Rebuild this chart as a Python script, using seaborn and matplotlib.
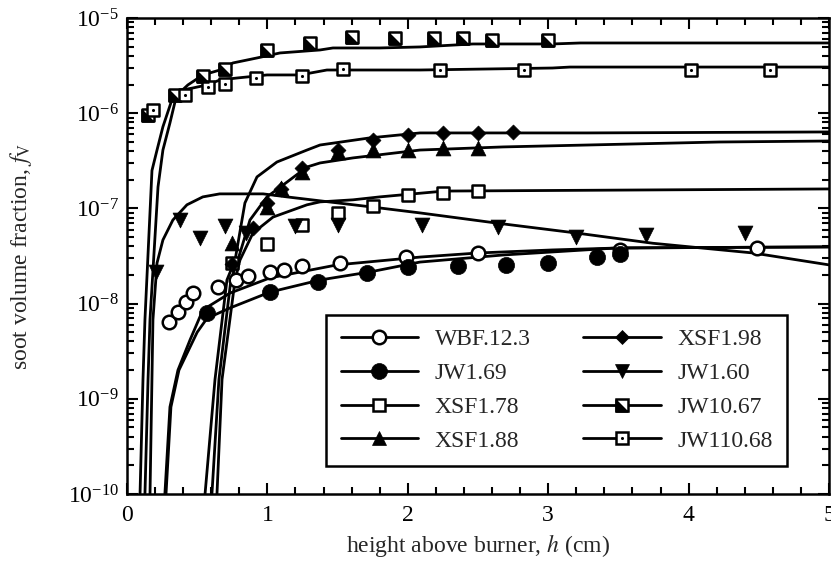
import matplotlib
matplotlib.use("Agg")
import matplotlib.pyplot as plt
import seaborn as sns
from matplotlib.lines import Line2D
from matplotlib.legend_handler import HandlerTuple
from matplotlib.ticker import MultipleLocator, LogLocator, NullFormatter

# ---------------- measured points (h in cm, soot volume fraction) ----------------
wbf_h = [0.30, 0.36, 0.42, 0.47, 0.65, 0.78, 0.86, 1.02, 1.12, 1.25, 1.52, 1.99, 2.50, 3.51, 4.49]
wbf_fv = [6.4e-9, 8.2e-9, 1.04e-8, 1.29e-8, 1.49e-8, 1.77e-8, 1.95e-8, 2.15e-8, 2.25e-8, 2.5e-8,
          2.7e-8, 3.1e-8, 3.4e-8, 3.65e-8, 3.8e-8]

jw169_h = [0.57, 1.02, 1.36, 1.71, 2.00, 2.36, 2.70, 3.00, 3.35, 3.51]
jw169_fv = [7.96e-9, 1.32e-8, 1.69e-8, 2.1e-8, 2.4e-8, 2.5e-8, 2.55e-8, 2.7e-8, 3.1e-8, 3.3e-8]

xsf178_h = [0.75, 1.00, 1.25, 1.50, 1.75, 2.00, 2.25, 2.50]
xsf178_fv = [2.7e-8, 4.2e-8, 6.7e-8, 8.9e-8, 1.06e-7, 1.38e-7, 1.45e-7, 1.51e-7]

xsf188_h = [0.75, 1.00, 1.10, 1.25, 1.50, 1.75, 2.00, 2.25, 2.50]
xsf188_fv = [4.3e-8, 1.03e-7, 1.64e-7, 2.41e-7, 3.9e-7, 4.1e-7, 4.1e-7, 4.3e-7, 4.3e-7]

xsf198_h = [0.75, 0.90, 1.00, 1.10, 1.25, 1.50, 1.75, 2.00, 2.25, 2.50, 2.75]
xsf198_fv = [2.6e-8, 6.2e-8, 1.15e-7, 1.6e-7, 2.65e-7, 4.1e-7, 5.2e-7, 5.9e-7, 6.2e-7, 6.2e-7, 6.3e-7]

jw160_h = [0.21, 0.38, 0.52, 0.70, 0.85, 1.20, 1.50, 2.10, 2.64, 3.20, 3.70, 4.40]
jw160_fv = [2.15e-8, 7.55e-8, 4.9e-8, 6.5e-8, 5.5e-8, 6.5e-8, 6.7e-8, 6.7e-8, 6.4e-8, 5.0e-8, 5.3e-8, 5.5e-8]

jw1067_h = [0.15, 0.34, 0.54, 0.70, 1.00, 1.30, 1.60, 1.91, 2.19, 2.39, 2.60, 3.00]
jw1067_fv = [9.5e-7, 1.55e-6, 2.45e-6, 2.9e-6, 4.6e-6, 5.5e-6, 6.3e-6, 6.2e-6, 6.2e-6, 6.2e-6, 5.9e-6, 5.9e-6]

jw11068_h = [0.185, 0.41, 0.58, 0.70, 0.92, 1.25, 1.54, 2.23, 2.83, 4.02, 4.58]
jw11068_fv = [1.08e-6, 1.55e-6, 1.88e-6, 2.03e-6, 2.34e-6, 2.46e-6, 2.91e-6, 2.84e-6, 2.84e-6, 2.84e-6, 2.84e-6]

# ---------------- model curves ----------------
wbf_line_h = [0.27, 0.306, 0.363, 0.449, 0.541, 0.734, 1.018, 1.496, 2.087, 2.50, 3.03, 3.51, 5.0]
wbf_line_fv = [1e-10, 8.2e-10, 2.0e-9, 4.15e-9, 8.6e-9, 1.29e-8, 1.86e-8, 2.55e-8, 3.08e-8, 3.4e-8,
               3.66e-8, 3.84e-8, 3.94e-8]

jw169_line_h = [0.278, 0.313, 0.37, 0.50, 0.57, 0.734, 1.018, 1.375, 1.73, 2.087, 2.68, 3.49, 5.0]
jw169_line_fv = [1e-10, 8.2e-10, 2.0e-9, 5.0e-9, 7.0e-9, 9.0e-9, 1.32e-8, 1.77e-8, 2.15e-8, 2.73e-8,
                 3.24e-8, 3.84e-8, 3.94e-8]

xsf178_line_h = [0.641, 0.677, 0.77, 0.805, 0.897, 1.04, 1.282, 1.375, 1.61, 1.80, 1.99, 2.26, 5.0]
xsf178_line_fv = [1e-10, 1.6e-9, 1.77e-8, 2.87e-8, 5.5e-8, 8.1e-8, 1.09e-7, 1.17e-7, 1.23e-7, 1.32e-7,
                  1.4e-7, 1.52e-7, 1.6e-7]

xsf188_line_h = [0.605, 0.655, 0.74, 0.79, 0.876, 0.997, 1.14, 1.282, 1.375, 1.61, 2.087, 2.68, 3.28, 4.22, 5.0]
xsf188_line_fv = [1e-10, 1.6e-9, 1.77e-8, 2.87e-8, 7.55e-8, 1.32e-7, 1.89e-7, 2.72e-7, 3.0e-7, 3.39e-7,
                  4.1e-7, 4.42e-7, 4.63e-7, 4.98e-7, 5.1e-7]

xsf198_line_h = [0.556, 0.627, 0.712, 0.77, 0.84, 0.926, 1.068, 1.282, 1.375, 1.73, 2.087, 3.28, 5.0]
xsf198_line_fv = [1e-10, 1.6e-9, 1.77e-8, 2.87e-8, 1.14e-7, 2.14e-7, 3.07e-7, 4.1e-7, 4.63e-7, 5.5e-7,
                  6.2e-7, 6.2e-7, 6.35e-7]

jw160_line_h = [0.164, 0.185, 0.214, 0.256, 0.327, 0.427, 0.54, 0.66, 0.97, 1.14, 1.73, 2.09, 2.635,
                3.205, 3.746, 4.46, 5.0]
jw160_line_fv = [1e-10, 6.8e-9, 2.67e-8, 4.66e-8, 7.55e-8, 1.09e-7, 1.32e-7, 1.42e-7, 1.42e-7, 1.32e-7,
                 1.04e-7, 8.95e-8, 7.0e-8, 5.5e-8, 4.3e-8, 3.4e-8, 2.55e-8]

jw1067_line_h = [0.093, 0.114, 0.128, 0.178, 0.214, 0.256, 0.32, 0.434, 0.541, 0.662, 0.755, 0.926,
                 1.09, 1.375, 1.467, 1.80, 2.087, 2.464, 3.03, 3.23, 5.0]
jw1067_line_fv = [1e-10, 1.6e-9, 6.8e-9, 2.5e-7, 4.1e-7, 7.2e-7, 1.38e-6, 1.98e-6, 2.52e-6, 2.84e-6,
                  3.37e-6, 3.80e-6, 4.29e-6, 4.61e-6, 4.84e-6, 4.84e-6, 4.96e-6, 5.33e-6, 5.33e-6,
                  5.46e-6, 5.46e-6]

jw11068_line_h = [0.128, 0.15, 0.164, 0.221, 0.256, 0.306, 0.349, 0.392, 0.47, 0.57, 0.662, 0.783,
                  0.997, 1.232, 1.424, 2.087, 3.03, 3.155, 5.0]
jw11068_line_fv = [1e-10, 1.6e-9, 6.8e-9, 1.68e-7, 4.1e-7, 7.9e-7, 1.45e-6, 1.75e-6, 1.84e-6, 1.98e-6,
                   2.23e-6, 2.34e-6, 2.52e-6, 2.52e-6, 2.84e-6, 2.84e-6, 2.98e-6, 3.05e-6, 3.05e-6]

labels = ["WBF.12.3", "JW1.69", "XSF1.78", "XSF1.88", "XSF1.98", "JW1.60", "JW10.67", "JW110.68"]

# ---------------- style ----------------
sns.set_style("ticks")
plt.rcParams["font.family"] = ["Liberation Serif", "DejaVu Serif"]
plt.rcParams["mathtext.fontset"] = "stix"
plt.rcParams["axes.edgecolor"] = "black"
plt.rcParams["xtick.color"] = "black"
plt.rcParams["ytick.color"] = "black"

FS = 17
LW = 2.0

fig, ax = plt.subplots(figsize=(8.31, 5.61), dpi=100)
fig.subplots_adjust(left=0.1528, right=0.9976, top=0.968, bottom=0.1194)

line_sets = [(wbf_line_h, wbf_line_fv), (jw169_line_h, jw169_line_fv),
             (xsf178_line_h, xsf178_line_fv), (xsf188_line_h, xsf188_line_fv),
             (xsf198_line_h, xsf198_line_fv), (jw160_line_h, jw160_line_fv),
             (jw1067_line_h, jw1067_line_fv), (jw11068_line_h, jw11068_line_fv)]
for hx, fy in line_sets:
    sns.lineplot(x=hx, y=fy, ax=ax, color="black", lw=LW, estimator=None, sort=False,
                 legend=False, zorder=2)

half_tri = [(-1, 1), (-1, -1), (1, -1)]
z = 3
sns.scatterplot(x=wbf_h, y=wbf_fv, ax=ax, marker="o", s=95, facecolor="white",
                edgecolor="black", linewidth=1.8, zorder=z)
sns.scatterplot(x=jw169_h, y=jw169_fv, ax=ax, marker="o", s=135, color="black",
                edgecolor="black", linewidth=0.5, zorder=z)
sns.scatterplot(x=xsf178_h, y=xsf178_fv, ax=ax, marker="s", s=80, facecolor="white",
                edgecolor="black", linewidth=1.8, zorder=z)
sns.scatterplot(x=xsf188_h, y=xsf188_fv, ax=ax, marker="^", s=115, color="black",
                edgecolor="black", linewidth=0.5, zorder=z)
sns.scatterplot(x=xsf198_h, y=xsf198_fv, ax=ax, marker="D", s=58, color="black",
                edgecolor="black", linewidth=0.5, zorder=z)
sns.scatterplot(x=jw160_h, y=jw160_fv, ax=ax, marker="v", s=115, color="black",
                edgecolor="black", linewidth=0.5, zorder=z)
sns.scatterplot(x=jw1067_h, y=jw1067_fv, ax=ax, marker="s", s=80, facecolor="white",
                edgecolor="black", linewidth=1.8, zorder=z)
sns.scatterplot(x=jw1067_h, y=jw1067_fv, ax=ax, marker=half_tri, s=80, color="black",
                edgecolor="black", linewidth=1.8, zorder=z + 0.1)
sns.scatterplot(x=jw11068_h, y=jw11068_fv, ax=ax, marker="s", s=80, facecolor="white",
                edgecolor="black", linewidth=1.8, zorder=z)
sns.scatterplot(x=jw11068_h, y=jw11068_fv, ax=ax, marker="o", s=5, color="black",
                edgecolor="black", linewidth=0, zorder=z + 0.1)

ax.set_yscale("log")
ax.set_xlim(0, 5)
ax.set_ylim(1e-10, 1e-5)
ax.xaxis.set_major_locator(MultipleLocator(1))
ax.xaxis.set_minor_locator(MultipleLocator(0.2))
ax.yaxis.set_minor_locator(LogLocator(base=10, subs=range(2, 10), numticks=20))
ax.yaxis.set_minor_formatter(NullFormatter())
ax.tick_params(which="both", direction="in", top=True, right=True, width=1.5,
               labelsize=FS, colors="black")
ax.tick_params(which="major", length=8)
ax.tick_params(which="minor", length=5)
ax.tick_params(axis="x", which="major", pad=8)
ax.tick_params(axis="y", which="major", pad=6)
for sp in ax.spines.values():
    sp.set_linewidth(1.8)
    sp.set_color("black")

ax.set_xlabel("height above burner, $h$ (cm)", fontsize=FS, labelpad=4)
ax.set_ylabel(r"soot volume fraction, $f_{\mathrm{V}}$", fontsize=FS, labelpad=24)

# ---------------- legend ----------------
def mk(marker, ms, mfc, mew=1.8, ls="-"):
    return Line2D([], [], color="black", lw=LW if ls == "-" else 0, ls=ls, marker=marker,
                  ms=ms, mfc=mfc, mec="black", mew=mew)

handles = [
    mk("o", 9.7, "white"),
    mk("o", 11.5, "black", mew=0.5),
    mk("s", 9.0, "white"),
    mk("^", 10.7, "black", mew=0.5),
    mk("D", 7.6, "black", mew=0.5),
    mk("v", 10.7, "black", mew=0.5),
    (mk("s", 9.0, "white"), mk(half_tri, 9.0, "black", ls="None")),
    (mk("s", 9.0, "white"), mk("o", 2.2, "black", mew=0, ls="None")),
]
leg = ax.legend(handles, labels, ncol=2, loc="lower right", bbox_to_anchor=(0.940, 0.059),
                borderaxespad=0.0,
                fontsize=FS, frameon=True, fancybox=False, framealpha=1, edgecolor="black",
                handlelength=3.3, handletextpad=0.7, columnspacing=2.2, labelspacing=0.52,
                borderpad=0.6, numpoints=1,
                handler_map={tuple: HandlerTuple(ndivide=1)})
leg.get_frame().set_linewidth(1.8)

fig.savefig("out.png", dpi=100)
